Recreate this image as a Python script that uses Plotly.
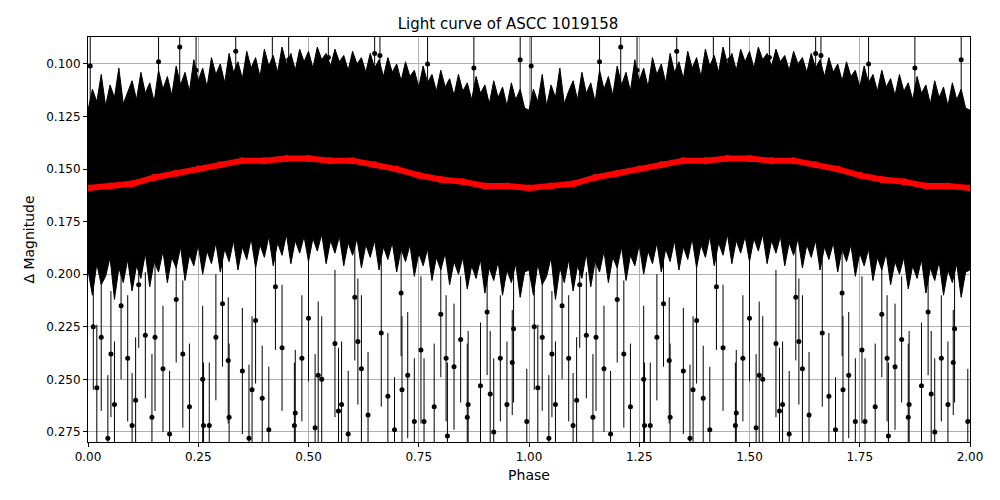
import plotly.graph_objects as go

# binned curve (phase 0..1)
bin_phase = [0.0,0.05,0.1,0.15,0.2,0.25,0.3,0.35,0.4,0.45,0.5,0.55,0.6,0.65,0.7,0.75,0.8,0.85,0.9,0.95,1.0]
bin_mag = [0.159,0.158,0.157,0.154,0.152,0.150,0.148,0.146,0.146,0.145,0.145,0.146,0.146,0.148,0.150,0.153,0.155,0.156,0.158,0.158,0.159]

# dense band envelope (phase 0..1), ragged edges
band_phase = [0.0,0.01,0.02,0.03,0.04,0.05,0.06,0.07,0.08,0.09,0.1,0.11,0.12,0.13,0.14,0.15,0.16,0.17,0.18,0.19,
              0.2,0.21,0.22,0.23,0.24,0.25,0.26,0.27,0.28,0.29,0.3,0.31,0.32,0.33,0.34,0.35,0.36,0.37,0.38,0.39,
              0.4,0.41,0.42,0.43,0.44,0.45,0.46,0.47,0.48,0.49,0.5,0.51,0.52,0.53,0.54,0.55,0.56,0.57,0.58,0.59,
              0.6,0.61,0.62,0.63,0.64,0.65,0.66,0.67,0.68,0.69,0.7,0.71,0.72,0.73,0.74,0.75,0.76,0.77,0.78,0.79,
              0.8,0.81,0.82,0.83,0.84,0.85,0.86,0.87,0.88,0.89,0.9,0.91,0.92,0.93,0.94,0.95,0.96,0.97,0.98,0.99,1.0]
band_top = [0.122,0.112,0.118,0.105,0.120,0.110,0.116,0.102,0.119,0.113,0.108,0.117,0.104,0.114,0.109,0.118,0.103,0.112,0.106,0.115,
            0.101,0.110,0.104,0.113,0.098,0.108,0.102,0.111,0.097,0.105,0.100,0.109,0.095,0.104,0.099,0.107,0.094,0.102,0.097,0.106,
            0.093,0.101,0.096,0.104,0.092,0.100,0.095,0.103,0.093,0.099,0.094,0.102,0.092,0.098,0.095,0.101,0.093,0.099,0.096,0.103,
            0.094,0.100,0.097,0.104,0.095,0.102,0.098,0.106,0.097,0.104,0.100,0.108,0.099,0.106,0.103,0.111,0.101,0.109,0.105,0.113,
            0.103,0.111,0.107,0.115,0.105,0.113,0.109,0.117,0.106,0.114,0.110,0.119,0.108,0.116,0.111,0.120,0.109,0.117,0.112,0.121,0.122]
band_bot = [0.198,0.210,0.195,0.205,0.201,0.192,0.212,0.197,0.204,0.193,0.208,0.196,0.202,0.190,0.206,0.194,0.199,0.189,0.204,0.192,
            0.197,0.187,0.203,0.191,0.196,0.186,0.200,0.189,0.195,0.185,0.199,0.188,0.194,0.184,0.198,0.187,0.193,0.183,0.197,0.186,
            0.192,0.182,0.196,0.185,0.191,0.181,0.195,0.184,0.190,0.182,0.194,0.183,0.189,0.181,0.195,0.184,0.190,0.182,0.196,0.185,
            0.191,0.183,0.197,0.186,0.192,0.184,0.198,0.187,0.193,0.185,0.199,0.188,0.194,0.186,0.201,0.190,0.196,0.188,0.203,0.192,
            0.198,0.190,0.205,0.194,0.200,0.192,0.207,0.196,0.202,0.193,0.209,0.197,0.203,0.194,0.210,0.198,0.204,0.195,0.211,0.199,0.198]

# individual scattered points (phase 0..1)
pt_phase = [0.005,0.02,0.03,0.045,0.06,0.075,0.09,0.1,0.115,0.13,0.145,0.16,0.17,0.185,0.2,0.215,0.23,0.245,0.26,0.275,
            0.29,0.305,0.32,0.335,0.35,0.365,0.38,0.395,0.41,0.425,0.44,0.455,0.47,0.485,0.5,0.515,0.53,0.545,0.56,0.575,
            0.59,0.605,0.62,0.635,0.65,0.665,0.68,0.695,0.71,0.725,0.74,0.755,0.77,0.785,0.8,0.815,0.83,0.845,0.86,0.875,
            0.89,0.905,0.92,0.935,0.95,0.965,0.98,0.995,0.012,0.052,0.108,0.152,0.208,0.262,0.318,0.372,0.418,0.468,0.522,0.568,
            0.612,0.662,0.712,0.762,0.812,0.862,0.912,0.962]
pt_mag = [0.101,0.254,0.23,0.278,0.262,0.215,0.24,0.272,0.205,0.229,0.268,0.099,0.245,0.276,0.212,0.238,0.263,0.103,0.25,0.272,
          0.23,0.214,0.268,0.094,0.246,0.278,0.222,0.259,0.274,0.206,0.235,0.098,0.266,0.24,0.221,0.273,0.25,0.097,0.233,0.262,
          0.276,0.211,0.245,0.267,0.095,0.228,0.258,0.274,0.209,0.248,0.27,0.236,0.1,0.263,0.219,0.277,0.244,0.231,0.268,0.102,
          0.253,0.218,0.275,0.24,0.262,0.226,0.098,0.27,0.225,0.238,0.26,0.23,0.092,0.272,0.241,0.255,0.1,0.272,0.248,0.265,
          0.232,0.096,0.255,0.27,0.24,0.262,0.257,0.242]
pt_err = [0.03,0.03,0.035,0.03,0.03,0.035,0.03,0.025,0.03,0.03,0.03,0.035,0.03,0.03,0.03,0.035,0.03,0.03,0.035,0.03]*5

fig = go.Figure()
bp = band_phase + [p + 1 for p in band_phase[1:]]
bt = band_top + band_top[1:]
bb = band_bot + band_bot[1:]
fig.add_trace(go.Scatter(x=bp, y=bt, mode="lines", line=dict(color="black", width=1), showlegend=False, hoverinfo="skip"))
fig.add_trace(go.Scatter(x=bp, y=bb, mode="lines", line=dict(color="black", width=1), fill="tonexty",
                         fillcolor="black", showlegend=False, hoverinfo="skip"))
n = len(pt_phase)
px = pt_phase + [p + 1 for p in pt_phase]
py = pt_mag + pt_mag
pe = (pt_err[:n]) * 2
fig.add_trace(go.Scatter(x=px, y=py, mode="markers", marker=dict(color="black", size=5),
                         error_y=dict(type="data", array=pe, color="black", thickness=1, width=0),
                         showlegend=False))
fig.add_trace(go.Scatter(x=bin_phase + [p + 1 for p in bin_phase[1:]], y=bin_mag + bin_mag[1:],
                         mode="lines+markers", line=dict(color="red", width=6), marker=dict(color="red", size=7),
                         showlegend=False))

ax = dict(showline=True, linecolor="black", mirror=True, ticks="outside", ticklen=4, tickcolor="black",
          showgrid=True, gridcolor="#b0b0b0", gridwidth=1, zeroline=False)
fig.update_layout(
    width=1000, height=500, paper_bgcolor="white", plot_bgcolor="white",
    margin=dict(l=80, r=38, t=29, b=66),
    font=dict(family="DejaVu Sans", size=12, color="black"),
    title=dict(text="Light curve of ASCC 1019158", x=0.5, xanchor="center", y=0.98, font=dict(size=15)),
    xaxis=dict(ax, range=[0, 2], tickvals=[0,0.25,0.5,0.75,1,1.25,1.5,1.75,2],
               ticktext=["0.00","0.25","0.50","0.75","1.00","1.25","1.50","1.75","2.00"],
               title=dict(text="Phase", standoff=6)),
    yaxis=dict(ax, range=[0.2798, 0.0872], tickvals=[0.1,0.125,0.15,0.175,0.2,0.225,0.25,0.275],
               ticktext=["0.100","0.125","0.150","0.175","0.200","0.225","0.250","0.275"],
               title=dict(text="Δ Magnitude", standoff=8)),
)
fig.write_html("out.html")
